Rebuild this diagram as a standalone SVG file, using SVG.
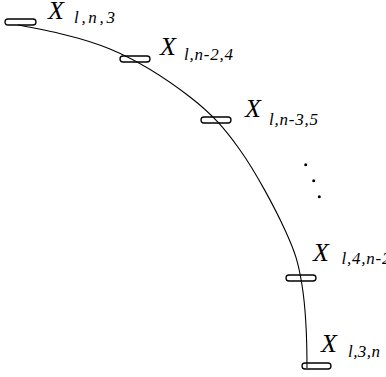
<svg xmlns="http://www.w3.org/2000/svg" width="386" height="377" viewBox="0 0 386 377">
<style>
.cap{fill:none;stroke:#000;stroke-width:1.3}
.curve{fill:none;stroke:#000;stroke-width:1.1}
.x{font-family:"Liberation Serif",serif;font-style:italic;font-size:26px;fill:#000}
.s{font-family:"Liberation Serif",serif;font-style:italic;font-size:17px;fill:#000}
.dot{fill:#000}
</style>
<g id="connectors">
<path class="curve" d="M18,25 C48,30.7 81.3,37 110,49 C138.7,61 168.3,80.2 190,97 C211.7,113.8 224.2,127.8 240,150 C255.8,172.2 274.7,207.5 285,230 C295.3,252.5 298.3,262 302,285 C305.7,308 307,340.3 307,368"/>
</g>
<g id="node1"><rect class="cap" x="5" y="19" width="31" height="6" rx="3"/><text class="x" x="48" y="18.5">X</text><text class="s" x="74" y="23" textLength="41">l,n,3</text></g>
<g id="node2"><rect class="cap" x="120" y="56" width="30" height="6" rx="3"/><text class="x" x="160" y="55">X</text><text class="s" x="184" y="60" textLength="49">l,n-2,4</text></g>
<g id="node3"><rect class="cap" x="201" y="117" width="30" height="6" rx="3"/><text class="x" x="245" y="116.5">X</text><text class="s" x="269" y="124.5" textLength="49">l,n-3,5</text></g>
<g id="dots"><circle class="dot" cx="305.7" cy="164.7" r="1.5"/><circle class="dot" cx="313.7" cy="180.7" r="1.5"/><circle class="dot" cx="319.3" cy="196.7" r="1.5"/></g>
<g id="node4"><rect class="cap" x="286" y="275" width="30" height="6" rx="3"/><text class="x" x="313" y="260.5">X</text><text class="s" x="341.5" y="263.5" textLength="49">l,4,n-2</text></g>
<g id="node5"><rect class="cap" x="302" y="363" width="29" height="6" rx="3"/><text class="x" x="321" y="351.5">X</text><text class="s" x="348" y="357" textLength="32">l,3,n</text></g>
</svg>
